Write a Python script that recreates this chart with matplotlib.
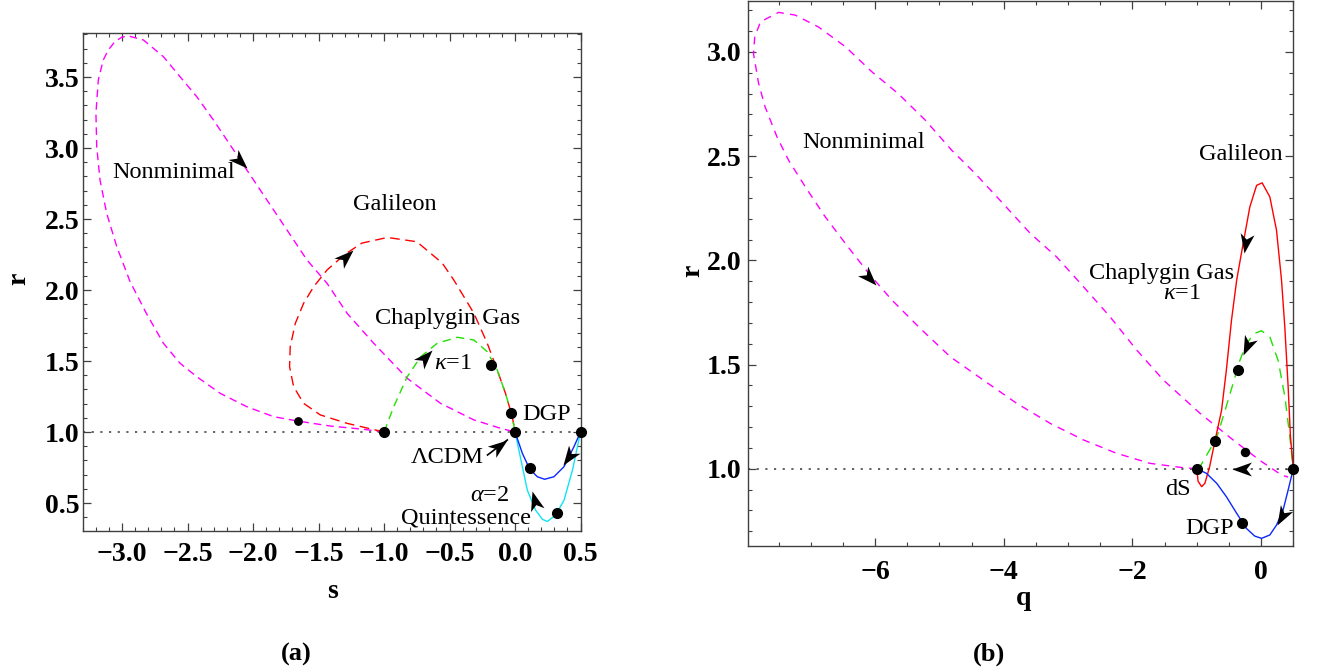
import matplotlib
matplotlib.use('Agg')
import matplotlib.pyplot as plt
from matplotlib.path import Path
from matplotlib.markers import MarkerStyle
from matplotlib.transforms import Affine2D
from matplotlib.ticker import MultipleLocator
import numpy as np

plt.rcParams['font.family'] = ['Liberation Serif', 'DejaVu Serif']
plt.rcParams['mathtext.fontset'] = 'custom'
plt.rcParams['mathtext.rm'] = 'Liberation Serif'
plt.rcParams['mathtext.it'] = 'Liberation Serif:italic'

# ---------------- panel (a): s - r plane ----------------
nonmin_a_s = [-1.0, -1.155, -1.41, -1.657, -1.843, -2.047, -2.25, -2.429, -2.557, -2.684,
              -2.811, -2.939, -3.04, -3.117, -3.168, -3.193, -3.199, -3.181, -3.143, -3.105,
              -3.054, -3.002, -2.952, -2.837, -2.684, -2.557, -2.429, -2.302, -2.174, -2.047,
              -1.894, -1.741, -1.588, -1.435, -1.282, -1.079, -0.823, -0.569, -0.314, -0.11, 0.0]
nonmin_a_r = [1.0, 1.019, 1.042, 1.077, 1.108, 1.178, 1.272, 1.389, 1.484, 1.625,
              1.83, 2.06, 2.305, 2.54, 2.775, 3.009, 3.244, 3.479, 3.62, 3.69,
              3.749, 3.78, 3.789, 3.761, 3.643, 3.502, 3.361, 3.197, 3.021, 2.845,
              2.634, 2.423, 2.211, 2.047, 1.836, 1.625, 1.378, 1.202, 1.085, 1.026, 1.0]

galileon_a_s = [-1.0, -1.282, -1.486, -1.614, -1.69, -1.721, -1.716, -1.677, -1.614, -1.537,
                -1.435, -1.30, -1.17, -0.974, -0.75, -0.556, -0.467, -0.314, -0.212, -0.136,
                -0.072, -0.021, 0.0]
galileon_a_r = [1.0, 1.061, 1.12, 1.202, 1.319, 1.46, 1.601, 1.765, 1.906, 2.023,
                2.141, 2.25, 2.33, 2.37, 2.34, 2.19, 2.07, 1.836, 1.625, 1.437,
                1.27, 1.108, 1.0]

chaplygin_a_s = [-1.0, -0.926, -0.823, -0.72, -0.594, -0.44, -0.314, -0.212, -0.136, -0.072, -0.021, 0.0]
chaplygin_a_r = [1.0, 1.178, 1.389, 1.53, 1.625, 1.667, 1.648, 1.565, 1.437, 1.27, 1.108, 1.0]

dgp_a_s = [0.0, 0.056, 0.111, 0.17, 0.226, 0.297, 0.374, 0.45, 0.5]
dgp_a_r = [1.0, 0.85, 0.74, 0.685, 0.667, 0.685, 0.756, 0.897, 1.0]

quint_a_s = [0.0, 0.03, 0.056, 0.094, 0.157, 0.209, 0.247, 0.31, 0.374, 0.438, 0.5]
quint_a_r = [1.0, 0.87, 0.756, 0.59, 0.45, 0.385, 0.37, 0.415, 0.52, 0.73, 1.0]

dots_a_s = [-1.0, -0.186, -0.031, 0.0, 0.5, 0.111, 0.323]
dots_a_r = [1.0, 1.472, 1.135, 1.0, 1.0, 0.743, 0.432]
small_dot_a = (-1.657, 1.077)

# arrow heads: (base, tip)
arrows_a = [((-2.144, 2.944), (-2.047, 2.857)),
            ((-1.346, 2.188), (-1.236, 2.282)),
            ((-0.733, 1.48), (-0.636, 1.575)),
            ((0.45, 0.873), (0.369, 0.768)),
            ((0.17, 0.463), (0.132, 0.587))]
lcdm_arrow = ((-0.21, 0.838), (-0.059, 0.944))

labels_a = [('Nonminimal', -2.61, 2.826), ('Galileon', -0.92, 2.6),
            ('Chaplygin Gas', -0.515, 1.80), (r'$\kappa$=1', -0.477, 1.485),
            ('DGP', 0.24, 1.12), ('ΛCDM', -0.52, 0.817),
            (r'$\alpha$=2', -0.19, 0.555), ('Quintessence', -0.378, 0.395)]

a_xticks = [-3.0, -2.5, -2.0, -1.5, -1.0, -0.5, 0.0, 0.5]
a_xticklabels = ['−3.0', '−2.5', '−2.0', '−1.5', '−1.0', '−0.5', '0.0', '0.5']
a_yticks = [0.5, 1.0, 1.5, 2.0, 2.5, 3.0, 3.5]
a_yticklabels = ['0.5', '1.0', '1.5', '2.0', '2.5', '3.0', '3.5']

# ---------------- panel (b): q - r plane ----------------
nonmin_b_q = [-1.0, -1.21, -1.73, -2.245, -2.76, -3.28, -3.80, -4.32, -4.83, -5.30,
              -5.74, -6.10, -6.464, -6.775, -7.085, -7.345, -7.525, -7.71, -7.81, -7.89,
              -7.87, -7.78, -7.50, -7.24, -6.88, -6.46, -6.05, -5.64, -5.22, -4.81,
              -4.445, -4.06, -3.59, -3.18, -2.76, -2.35, -1.935, -1.52, -0.95, -0.435,
              -0.02, 0.317, 0.42]
nonmin_b_r = [1.0, 1.005, 1.026, 1.074, 1.138, 1.218, 1.314, 1.426, 1.537, 1.674,
              1.81, 1.938, 2.082, 2.209, 2.353, 2.481, 2.593, 2.737, 2.849, 2.993,
              3.073, 3.145, 3.19, 3.177, 3.12, 3.025, 2.905, 2.80, 2.673, 2.529,
              2.417, 2.289, 2.13, 2.017, 1.873, 1.73, 1.57, 1.426, 1.266, 1.138,
              1.04, 0.97, 0.96]

galileon_b_q = [0.5, 0.456, 0.42, 0.368, 0.317, 0.239, 0.135, 0.016, -0.07, -0.175,
                -0.28, -0.38, -0.46, -0.54, -0.615, -0.72, -0.80, -0.874, -0.925, -0.98, -1.0]
galileon_b_r = [1.0, 1.154, 1.393, 1.681, 1.905, 2.145, 2.305, 2.372, 2.36, 2.257,
                2.08, 1.905, 1.714, 1.474, 1.28, 1.13, 1.01, 0.93, 0.914, 0.94, 1.0]

chaplygin_b_q = [-1.0, -0.95, -0.80, -0.69, -0.56, -0.435, -0.33, -0.23, -0.10, 0.006,
                 0.135, 0.264, 0.37, 0.446, 0.5]
chaplygin_b_r = [1.0, 1.01, 1.09, 1.15, 1.28, 1.41, 1.52, 1.60, 1.65, 1.662,
                 1.633, 1.52, 1.345, 1.154, 1.0]

dgp_b_q = [-1.0, -0.85, -0.69, -0.54, -0.38, -0.23, -0.10, 0.006, 0.135, 0.24, 0.34, 0.42, 0.5]
dgp_b_r = [1.0, 0.978, 0.93, 0.866, 0.786, 0.714, 0.677, 0.666, 0.682, 0.73, 0.80, 0.898, 1.0]

dots_b_q = [-1.0, 0.5, -0.357, -0.72, -0.304]
dots_b_r = [1.0, 1.0, 1.474, 1.134, 0.741]
small_dot_b = (-0.253, 1.082)

arrows_b = [((-6.18, 1.945), (-5.98, 1.88)),
            ((-0.227, 2.113), (-0.268, 2.034)),
            ((-0.165, 1.626), (-0.28, 1.546)),
            ((0.394, 0.81), (0.249, 0.73)),
            ((-0.15, 1.0), (-0.46, 1.0))]

labels_b = [('Nonminimal', -6.18, 2.564), ('Galileon', -0.315, 2.51),
            ('Chaplygin Gas', -1.54, 1.939), (r'$\kappa$=1', -1.23, 1.84),
            ('dS', -1.29, 0.90), ('DGP', -0.797, 0.714)]

b_xticks = [-6, -4, -2, 0]
b_xticklabels = ['−6', '−4', '−2', '0']
b_yticks = [1.0, 1.5, 2.0, 2.5, 3.0]
b_yticklabels = ['1.0', '1.5', '2.0', '2.5', '3.0']

MAGENTA = '#ff00ff'
RED = '#ff0000'
GREEN = '#22e000'
BLUE = '#0a28ff'
CYAN = '#10e4f4'
FRAME = '#404040'

# notched arrow head, tip at the origin
HEAD = Path([(0, 0), (-2, 0.72), (-1.45, 0), (-2, -0.72), (0, 0)],
            [Path.MOVETO, Path.LINETO, Path.LINETO, Path.LINETO, Path.CLOSEPOLY])


def arrow_head(ax, base, tip, size=28):
    p0, p1 = ax.transData.transform([base, tip])
    ang = np.degrees(np.arctan2(p1[1] - p0[1], p1[0] - p0[0]))
    m = MarkerStyle(HEAD, transform=Affine2D().rotate_deg(ang))
    ax.plot(tip[0], tip[1], marker=m, markersize=size, color='black',
            markeredgewidth=0, zorder=6, clip_on=False)


def style_axes(ax, xmaj, xmin, ymaj, ymin):
    for sp in ax.spines.values():
        sp.set_color(FRAME)
        sp.set_linewidth(1.0)
    ax.xaxis.set_minor_locator(MultipleLocator(xmin))
    ax.yaxis.set_minor_locator(MultipleLocator(ymin))
    ax.tick_params(which='both', direction='in', top=True, right=True, color=FRAME)
    ax.tick_params(which='major', length=6, width=0.9)
    ax.tick_params(which='minor', length=3, width=0.8)
    ax.tick_params(axis='x', which='major', pad=8)
    ax.tick_params(axis='y', which='major', pad=2.5)
    for lab in ax.get_xticklabels() + ax.get_yticklabels():
        lab.set_fontsize(20)
        lab.set_fontweight('bold')


fig = plt.figure(figsize=(13.17, 6.70), dpi=100)
ax_a = fig.add_axes([0.0628, 0.2075, 0.378, 0.7437])
ax_b = fig.add_axes([0.5682, 0.185, 0.4138, 0.8133])

# ---- (a)
ax_a.set_xlim(-3.30, 0.5)
ax_a.set_ylim(0.303, 3.812)
ax_a.set_xticks(a_xticks, a_xticklabels)
ax_a.set_yticks(a_yticks, a_yticklabels)
style_axes(ax_a, 0.5, 0.1, 0.5, 0.1)

ax_a.axhline(1.0, color='#555555', lw=1.3, ls=(0, (1.2, 3.6)), zorder=1)
ax_a.plot(nonmin_a_s, nonmin_a_r, color=MAGENTA, lw=1.0, dashes=(5.5, 3.6))
ax_a.plot(galileon_a_s, galileon_a_r, color=RED, lw=1.0, dashes=(7, 4))
ax_a.plot(chaplygin_a_s, chaplygin_a_r, color=GREEN, lw=1.0, dashes=(6, 4))
ax_a.plot(quint_a_s, quint_a_r, color=CYAN, lw=1.0)
ax_a.plot(dgp_a_s, dgp_a_r, color=BLUE, lw=1.0)
ax_a.plot(dots_a_s, dots_a_r, 'o', color='black', ms=7, zorder=5, clip_on=False)
ax_a.plot(*small_dot_a, 'o', color='black', ms=5.3, zorder=5)
for base, tip in arrows_a:
    arrow_head(ax_a, base, tip)
ax_a.plot([lcdm_arrow[0][0], lcdm_arrow[1][0]], [lcdm_arrow[0][1], lcdm_arrow[1][1]],
          color='black', lw=1.2, zorder=6)
arrow_head(ax_a, *lcdm_arrow)
for txt, x, y in labels_a:
    ax_a.text(x, y, txt, fontsize=17.5, ha='center', va='center', zorder=7)

# ---- (b)
ax_b.set_xlim(-7.97, 0.5)
ax_b.set_ylim(0.629, 3.244)
ax_b.set_xticks(b_xticks, b_xticklabels)
ax_b.set_yticks(b_yticks, b_yticklabels)
style_axes(ax_b, 2, 0.5, 0.5, 0.1)
ax_b.tick_params(axis='x', which='major', pad=10)
ax_b.tick_params(axis='y', which='major', pad=5)

ax_b.axhline(1.0, color='#555555', lw=1.3, ls=(0, (1.2, 3.6)), zorder=1)
ax_b.plot(nonmin_b_q, nonmin_b_r, color=MAGENTA, lw=1.0, dashes=(5.5, 4.5))
ax_b.plot(chaplygin_b_q, chaplygin_b_r, color=GREEN, lw=1.0, dashes=(7, 5))
ax_b.plot(galileon_b_q, galileon_b_r, color=RED, lw=1.0)
ax_b.plot(dgp_b_q, dgp_b_r, color=BLUE, lw=1.0)
ax_b.plot(dots_b_q, dots_b_r, 'o', color='black', ms=7, zorder=5, clip_on=False)
ax_b.plot(*small_dot_b, 'o', color='black', ms=5.8, zorder=5)
for base, tip in arrows_b:
    arrow_head(ax_b, base, tip)
for txt, x, y in labels_b:
    ax_b.text(x, y, txt, fontsize=17.5, ha='center', va='center', zorder=7)

# axis labels and captions
fig.text(332 / 1317, 1 - 591.5 / 670, 's', fontsize=20, fontweight='bold', ha='center', va='center')
fig.text(1024 / 1317, 1 - 598.5 / 670, 'q', fontsize=20, fontweight='bold', ha='center', va='center')
fig.text(18.8 / 1317, 1 - 279 / 670, 'r', fontsize=20, fontweight='bold', rotation=90,
         ha='center', va='center')
fig.text(692.3 / 1317, 1 - 270.5 / 670, 'r', fontsize=20, fontweight='bold', rotation=90,
         ha='center', va='center')
fig.text(296.4 / 1317, 1 - 654 / 670, '(a)', fontsize=19, fontweight='bold', ha='center', va='center')
fig.text(989 / 1317, 1 - 654 / 670, '(b)', fontsize=19, fontweight='bold', ha='center', va='center')

fig.savefig('out.png', dpi=100)
